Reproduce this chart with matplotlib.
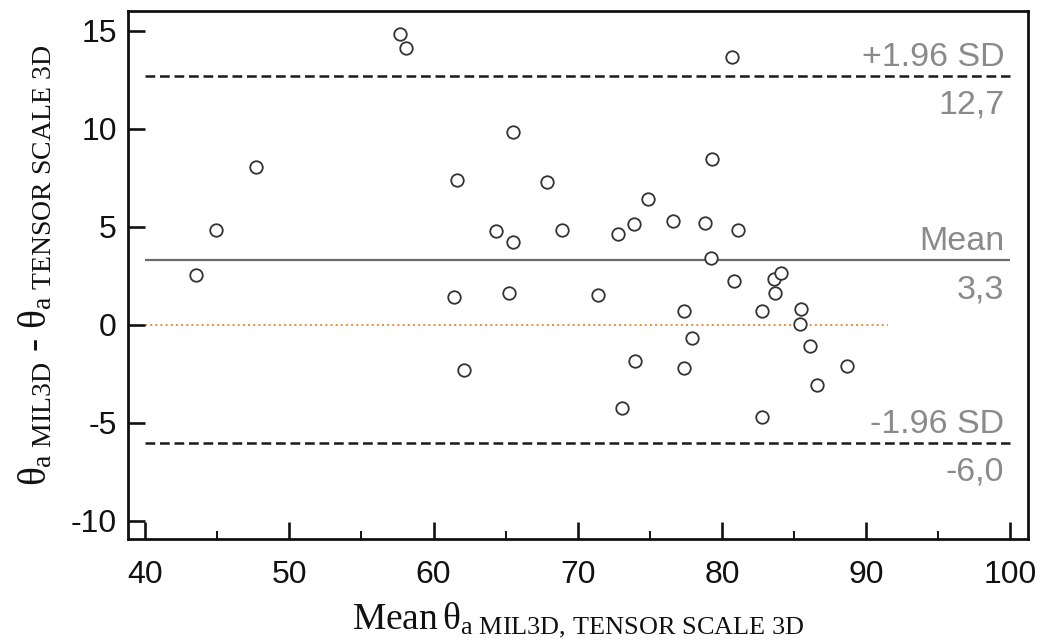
import matplotlib
matplotlib.use("Agg")
import matplotlib.pyplot as plt
from matplotlib.ticker import MultipleLocator

plt.rcParams["font.family"] = ["Liberation Sans", "DejaVu Sans"]
plt.rcParams["axes.unicode_minus"] = False
plt.rcParams["mathtext.fontset"] = "custom"
plt.rcParams["mathtext.rm"] = "Liberation Serif"
plt.rcParams["mathtext.it"] = "Liberation Serif"
plt.rcParams["mathtext.bf"] = "Liberation Serif:bold"

# Bland-Altman data: mean of the two methods vs. their difference
mean_vals = [43.5, 44.9, 47.7, 57.7, 58.1, 61.4, 61.6, 62.1, 64.3, 65.2,
             65.5, 65.5, 67.9, 68.9, 71.4, 72.8, 73.1, 73.9, 74.0, 74.9,
             76.6, 77.4, 77.4, 77.9, 78.8, 79.25, 79.3, 80.7, 80.85, 81.1,
             82.8, 82.8, 83.6, 83.7, 84.1, 85.4, 85.5, 86.1, 86.6, 88.7]
diff_vals = [2.55, 4.85, 8.06, 14.85, 14.1, 1.43, 7.4, -2.3, 4.8, 1.63,
             4.23, 9.85, 7.3, 4.85, 1.53, 4.64, -4.23, 5.15, -1.84, 6.43,
             5.31, 0.71, -2.2, -0.66, 5.2, 3.42, 8.47, 13.67, 2.24, 4.85,
             0.71, -4.69, 2.36, 1.63, 2.65, 0.05, 0.8, -1.07, -3.06, -2.09]

bias = 3.3
upper_loa = 12.7
lower_loa = -6.0
line_span = (40, 100)
zero_span = (40, 91.5)

fig = plt.figure(figsize=(10.42, 6.44), dpi=100)
ax = fig.add_axes([0.1228, 0.163, 0.864, 0.820])

ax.hlines(0, *zero_span, colors="#ec8a3a", linestyles=":", linewidth=1.4, zorder=1)
ax.hlines(bias, *line_span, colors="#6b6b6b", linewidth=1.6, zorder=1)
for lvl in (upper_loa, lower_loa):
    ax.plot(line_span, [lvl, lvl], color="#1a1a1a", linewidth=1.8,
            dashes=(3.9, 1.9), zorder=1)

ax.plot(mean_vals, diff_vals, linestyle="none", marker="o", markersize=9,
        markerfacecolor="white", markeredgecolor="#333333",
        markeredgewidth=1.3, zorder=3)


def fmt(v):
    return f"{v:.1f}".replace(".", ",")


txt_kw = dict(color="#8a8a8a", fontsize=24.5, ha="right", va="baseline")
for lvl, name in ((upper_loa, "+1.96 SD"), (bias, "Mean"), (lower_loa, "-1.96 SD")):
    ax.text(99.6, lvl + 0.5, name, **txt_kw)
    ax.text(99.6, lvl - 1.95, fmt(lvl), **txt_kw)

ax.set_xlim(38.8, 101.25)
ax.set_ylim(-10.92, 16.0)
ax.xaxis.set_major_locator(MultipleLocator(10))
ax.xaxis.set_minor_locator(MultipleLocator(5))
ax.yaxis.set_major_locator(MultipleLocator(5))

for s in ax.spines.values():
    s.set_linewidth(2.0)
    s.set_color("#111111")

ax.tick_params(axis="both", which="major", direction="in", length=12,
               width=1.9, labelsize=23, colors="#111111", pad=8)
ax.tick_params(axis="x", which="minor", direction="in", length=6, width=1.4,
               colors="#111111")
ax.tick_params(axis="y", which="minor", left=False)
ax.tick_params(axis="x", which="major", pad=15)

ax.set_xlabel(r"$\mathrm{Mean}\,\theta_{\mathrm{a\ MIL3D,\,TENSOR\ SCALE\ 3D}}$",
              fontsize=27, color="#111111", labelpad=8)
fig.text(0.034, 1 - 265 / 644,
         r"$\theta_{\mathrm{a\ MIL3D}}\ \text{-}\ \theta_{\mathrm{a\ TENSOR\ SCALE\ 3D}}$",
         rotation=90, ha="center", va="center", fontsize=28.5, color="#111111")

fig.savefig("out.png", dpi=100)
